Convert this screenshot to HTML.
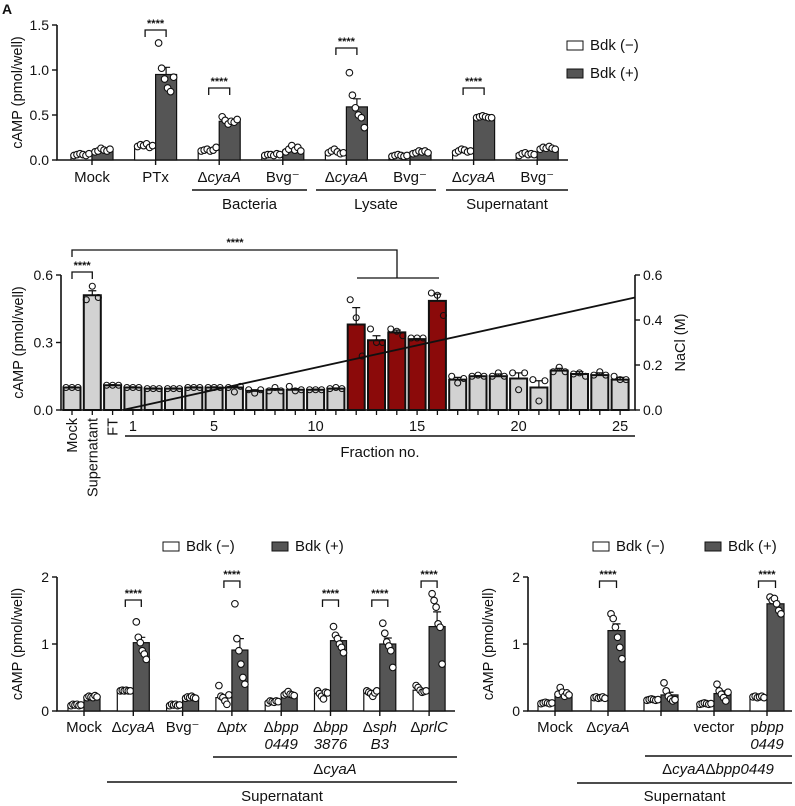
<!DOCTYPE html>
<html><head><meta charset="utf-8">
<style>
html,body{margin:0;padding:0;background:#fff;}
svg{display:block;font-family:"Liberation Sans",Arial,sans-serif;}
</style></head>
<body>
<svg id="fig" width="795" height="806" viewBox="0 0 795 806" xmlns="http://www.w3.org/2000/svg"></svg>
<script>
// ---------- Panel A data ----------
const aCats = ["Mock","PTx","ΔcyaA","Bvg⁻","ΔcyaA","Bvg⁻","ΔcyaA","Bvg⁻"];
const aWhite = [0.06,0.16,0.11,0.06,0.09,0.05,0.10,0.07];
const aDark  = [0.10,0.95,0.43,0.11,0.59,0.09,0.47,0.13];
const aWhiteErr = [0.01,0.01,0.01,0.01,0.01,0.01,0.01,0.01];
const aDarkErr  = [0.01,0.08,0.02,0.01,0.09,0.01,0.01,0.01];
const aWhitePts = [[.05,.06,.07,.06,.05,.07],[.15,.17,.16,.18,.14,.16],[.10,.11,.12,.10,.11,.14],[.05,.06,.06,.05,.07,.06],[.08,.10,.12,.09,.07,.08],[.04,.05,.06,.05,.04,.05],[.08,.10,.12,.11,.09,.10],[.05,.07,.08,.06,.07,.06]];
const aDarkPts = [[.09,.10,.13,.11,.10,.12],[1.30,1.02,.90,.80,.76,.92],[.48,.44,.40,.43,.42,.45],[.09,.12,.16,.11,.14,.10],[.97,.72,.58,.50,.47,.36],[.07,.08,.10,.09,.10,.08],[.47,.48,.49,.48,.47,.47],[.12,.14,.13,.15,.13,.12]];
const aTicks = [0,0.5,1.0,1.5];
const aTickLabels = ["0.0","0.5","1.0","1.5"];
// ---------- Panel B data ----------
const bCats = ["Mock","Supernatant","FT","1","2","3","4","5","6","7","8","9","10","11","12","13","14","15","16","17","18","19","20","21","22","23","24","25"];
const bVals = [0.10,0.51,0.11,0.10,0.095,0.095,0.10,0.10,0.10,0.085,0.09,0.09,0.09,0.095,0.38,0.31,0.345,0.315,0.485,0.135,0.15,0.15,0.14,0.10,0.175,0.16,0.155,0.135];
const bErr = [0.003,0.02,0.003,0.003,0.003,0.003,0.003,0.003,0.005,0.005,0.005,0.005,0.003,0.003,0.075,0.02,0.01,0.003,0.03,0.01,0.003,0.01,0.025,0.03,0.01,0.01,0.01,0.01];
const bPts = [[.10,.10,.10],[.49,.55,.50],[.11,.11,.11],[.10,.10,.10],[.095,.095,.095],[.095,.095,.095],[.10,.10,.10],[.10,.10,.10],[.10,.08,.105],[.09,.075,.09],[.085,.10,.085],[.105,.085,.09],[.09,.09,.09],[.095,.10,.095],[.49,.41,.24],[.36,.30,.30],[.36,.35,.33],[.32,.32,.32],[.52,.51,.42],[.15,.12,.14],[.15,.155,.15],[.15,.165,.15],[.165,.09,.165],[.135,.04,.13],[.17,.19,.17],[.16,.165,.15],[.155,.17,.155],[.15,.135,.135]];
const bRed = [14,15,16,17,18];
const bTicks = [0,0.3,0.6];
const bTickLabels = ["0.0","0.3","0.6"];
const bNaclTicks = [0,0.2,0.4,0.6];
const bNaclLabels = ["0.0","0.2","0.4","0.6"];
const bNaclStart = 0.0, bNaclEnd = 0.5;
// ---------- Panel C data ----------
const cCats = ["Mock","ΔcyaA","Bvg⁻","Δptx","Δbpp|0449","Δbpp|3876","Δsph|B3","ΔprlC"];
const cWhite = [0.09,0.30,0.09,0.20,0.14,0.26,0.27,0.31];
const cDark  = [0.21,1.02,0.20,0.91,0.25,1.05,1.00,1.26];
const cWhiteErr = [0.01,0.01,0.01,0.03,0.01,0.02,0.02,0.02];
const cDarkErr  = [0.01,0.08,0.01,0.17,0.01,0.05,0.09,0.22];
const cWhitePts = [[.08,.10,.09,.10,.08,.09],[.30,.31,.30,.31,.30,.30],[.08,.10,.09,.10,.08,.09],[.38,.22,.20,.15,.10,.24],[.12,.15,.14,.13,.15,.14],[.30,.26,.22,.18,.28,.27],[.30,.28,.26,.22,.27,.30],[.38,.35,.31,.28,.29,.30]];
const cDarkPts = [[.20,.22,.21,.20,.23,.21],[1.33,1.10,1.02,.90,.85,.77],[.19,.21,.20,.22,.20,.19],[1.60,1.08,.90,.70,.50,.40],[.24,.26,.29,.25,.24,.23],[1.26,1.13,1.08,1.00,.95,.87],[1.31,1.16,1.03,.97,.90,.65],[1.75,1.65,1.55,1.30,1.25,.70]];
const cTicks = [0,1,2];
const cTickLabels = ["0","1","2"];
// ---------- Panel D data ----------
const dCats = ["Mock","ΔcyaA","","vector","pbpp|0449"];
const dWhite = [0.12,0.20,0.17,0.11,0.21];
const dDark  = [0.26,1.20,0.24,0.26,1.60];
const dWhiteErr = [0.01,0.01,0.01,0.01,0.01];
const dDarkErr  = [0.02,0.10,0.04,0.04,0.04];
const dWhitePts = [[.11,.12,.13,.12,.11,.12],[.20,.21,.19,.20,.21,.19],[.16,.17,.18,.17,.16,.17],[.10,.11,.12,.11,.10,.11],[.21,.22,.20,.21,.22,.20],[.21,.22,.20,.21,.22,.20]];
const dDarkPts = [[.25,.35,.28,.22,.27,.24],[1.45,1.38,1.25,1.10,.95,.78],[.42,.30,.22,.18,.15,.17],[.40,.30,.25,.20,.15,.28],[1.70,1.65,1.68,1.60,1.50,1.45]];
const dTicks = [0,1,2];
const dTickLabels = ["0","1","2"];

const svg = document.getElementById('fig');
const NS = "http://www.w3.org/2000/svg";
function mk(tag, attrs, parent){
  const e = document.createElementNS(NS, tag);
  for (const k in attrs) e.setAttribute(k, attrs[k]);
  (parent||svg).appendChild(e);
  return e;
}
function txt(x,y,s,size,anchor,parent,extra){
  const t = mk('text',Object.assign({x:x,y:y,'font-size':size,'text-anchor':anchor||'middle',fill:'#111'},extra||{}),parent);
  t.textContent = s;
  return t;
}
// label with italic part: Δ + italic
function catLabel(x,y,s,size,parent){
  const t = mk('text',{x:x,y:y,'font-size':size,'text-anchor':'middle',fill:'#111'},parent);
  if (s.startsWith('Δ')) {
    const a = mk('tspan',{},t); a.textContent='Δ';
    const b = mk('tspan',{'font-style':'italic'},t); b.textContent=s.slice(1);
  } else if (s.startsWith('p') && s.length>1) {
    const a = mk('tspan',{},t); a.textContent='p';
    const b = mk('tspan',{'font-style':'italic'},t); b.textContent=s.slice(1);
  } else if (/^\d/.test(s) || s==='B3') {
    const b = mk('tspan',{'font-style':'italic'},t); b.textContent=s;
  } else t.textContent = s;
  return t;
}
function bracket(x1,x2,y,g){
  mk('path',{d:`M${x1},${y+7}V${y}H${x2}V${y+7}`,fill:'none',stroke:'#111','stroke-width':1.3},g);
  txt((x1+x2)/2,y-3,'****',11,'middle',g,{'font-weight':'bold'});
}

// ---------- grouped chart ----------
function grouped(cfg){
  const g = mk('g',{});
  
  
  const y = v => cfg.y0 - v/cfg.vmax*(cfg.y0-cfg.yTop);
  const gx = i => cfg.first + i*cfg.pitch;
  // axes
  const ax = mk('path',{d:`M${cfg.ax},${cfg.yTop}V${cfg.y0}H${cfg.axEnd}`,fill:'none',stroke:'#111','stroke-width':1.6},g);
  
  
  cfg.ticks.forEach((t,i)=>{
    mk('line',{x1:cfg.ax-5,x2:cfg.ax,y1:y(t),y2:y(t),stroke:'#111','stroke-width':1.4},g);
    const tl = txt(cfg.ax-8,y(t)+5,cfg.tickLabels[i],14,'end',g);
    
    
  });
  const yt = txt(0,0,'cAMP (pmol/well)',14.5,'middle',g,{transform:`translate(${cfg.ax-35},${(cfg.y0+cfg.yTop)/2}) rotate(-90)`});
  
  
  const bw = cfg.bw;
  cfg.white.forEach((v,i)=>{
    const cx = gx(i);
    [[cfg.white,cfg.wErr,cfg.wPts,'#fff',cx-bw],[cfg.dark,cfg.dErr,cfg.dPts,'#555',cx]].forEach(([vals,errs,pts,fill,x0],k)=>{
      const val = vals[i];
      const r = mk('rect',{x:x0,y:y(val),width:bw,height:cfg.y0-y(val),fill:fill,stroke:'#111','stroke-width':1.2},g);
      
      
      mk('path',{d:`M${x0+bw/2},${y(val)}V${y(val+errs[i])}M${x0+bw/2-4},${y(val+errs[i])}H${x0+bw/2+4}`,stroke:'#111','stroke-width':1.2,fill:'none'},g);
      pts[i].forEach((p,j)=>{
        const px = x0+3+ j*(bw-6)/(pts[i].length-1);
        const c = mk('circle',{cx:px,cy:y(p),r:3.3,fill:'#fff',stroke:'#111','stroke-width':1.1},g);
        
        
      });
    });
    mk('line',{x1:cx,x2:cx,y1:cfg.y0,y2:cfg.y0+5,stroke:'#111','stroke-width':1.4},g);
    const parts = cfg.cats[i].split('|');
    parts.forEach((p,k)=>{
      const cl = catLabel(cx,cfg.labY+k*17,p,15,g);
      
      
    });
  });
  cfg.sig.forEach(([i,yy])=>bracket(gx(i)-bw/2,gx(i)+bw/2,yy,g));
  return g;
}
function legend(entries){
  entries.forEach(([x,y,fill,label])=>{
    const r = mk('rect',{x:x,y:y-4,width:16,height:9,fill:fill,stroke:'#111','stroke-width':1});
    
    
    const t = txt(x+23,y+5,label,15,'start');
    
    
  });
}
function groupLine(x1,x2,y,label,ly,italicParts){
  mk('line',{x1:x1,x2:x2,y1:y,y2:y,stroke:'#111','stroke-width':1.4});
  const t = catLabel((x1+x2)/2,ly,label,15);
  
  
  return t;
}

// Panel letter
const pl = txt(2,14,'A',14,'start',svg,{'font-weight':'bold'});



// Panel A
grouped({name:'panel-a-chart',ax:57,axEnd:568,y0:160,yTop:25,vmax:1.5,first:92,pitch:63.6,bw:21,
  ticks:aTicks,tickLabels:aTickLabels,cats:aCats,white:aWhite,dark:aDark,wErr:aWhiteErr,dErr:aDarkErr,
  wPts:aWhitePts,dPts:aDarkPts,labY:182,sig:[[1,30],[2,88],[4,48],[6,88]]});
groupLine(192,307,190,'Bacteria',209);
groupLine(316,436,190,'Lysate',209);
groupLine(446,568,190,'Supernatant',209);
legend([[567,45,'#fff','Bdk (−)'],[567,73,'#555','Bdk (+)']]);

// Panel B
(function(){
  const g = mk('g',{});
  
  
  const y0=410, yTop=275, vmax=0.6, first=72, pitch=20.3, bw=19, axL=61, axR=635;
  const y = v => y0 - v/vmax*(y0-yTop);
  const bx = i => first + i*pitch;
  const ax = mk('path',{d:`M${axL},${yTop}V${y0}H${axR}V${yTop}`,fill:'none',stroke:'#111','stroke-width':1.6},g);
  
  
  bTicks.forEach((t,i)=>{
    mk('line',{x1:axL-5,x2:axL,y1:y(t),y2:y(t),stroke:'#111','stroke-width':1.4},g);
    txt(axL-8,y(t)+5,bTickLabels[i],14,'end',g);
  });
  bNaclTicks.forEach((t,i)=>{
    mk('line',{x1:axR,x2:axR+5,y1:y(t),y2:y(t),stroke:'#111','stroke-width':1.4},g);
    txt(axR+8,y(t)+5,bNaclLabels[i],14,'start',g);
  });
  const yt = txt(0,0,'cAMP (pmol/well)',14.5,'middle',g,{transform:`translate(${axL-38},${(y0+yTop)/2}) rotate(-90)`});
  
  
  const yt2 = txt(0,0,'NaCl (M)',14.5,'middle',g,{transform:`translate(${axR+50},${(y0+yTop)/2}) rotate(-90)`});
  
  
  bVals.forEach((v,i)=>{
    const cx = bx(i);
    const red = bRed.includes(i);
    const r = mk('rect',{x:cx-bw/2+1,y:y(v),width:bw-2,height:y0-y(v),fill:red?'#8b0a0a':'#d2d2d2',stroke:'#111','stroke-width':2},g);
    
    
    mk('path',{d:`M${cx},${y(v)}V${y(v+bErr[i])}M${cx-4},${y(v+bErr[i])}H${cx+4}`,stroke:'#111','stroke-width':1.2,fill:'none'},g);
    bPts[i].forEach((p,j)=>{
      const c = mk('circle',{cx:cx-6+j*6,cy:y(p),r:3,fill:'none',stroke:'#111','stroke-width':1.1},g);
      
      
    });
    mk('line',{x1:cx,x2:cx,y1:y0,y2:y0+5,stroke:'#111','stroke-width':1.3},g);
    if (i<3) {
      const t = txt(0,0,bCats[i],14.5,'end',g,{transform:`translate(${cx+5},${y0+8}) rotate(-90)`});
      
      
    } else if ([1,5,10,15,20,25].includes(+bCats[i])) {
      const t = txt(cx,y0+21,bCats[i],14.5,'middle',g);
      
      
    }
  });
  // NaCl gradient line: from start of fraction 1 to right axis
  const ny = v => y0 - v/0.6*(y0-yTop);
  const nl = mk('line',{x1:bx(3)-pitch/2,y1:ny(bNaclStart),x2:axR,y2:ny(bNaclEnd),stroke:'#111','stroke-width':1.8},g);
  
  
  mk('line',{x1:125,x2:635,y1:436,y2:436,stroke:'#111','stroke-width':1.4},g);
  const fx = txt(380,457,'Fraction no.',15,'middle',g);
  
  
  bracket(bx(0),bx(1),272,g);
  mk('path',{d:`M${bx(0)},257V250H397V278M357,278H439`,fill:'none',stroke:'#111','stroke-width':1.3},g);
  txt(235,246,'****',11,'middle',g,{'font-weight':'bold'});
})();

// Panel C
grouped({name:'panel-c-chart',ax:57,axEnd:455,y0:711,yTop:577,vmax:2,first:84,pitch:49.3,bw:16,
  ticks:cTicks,tickLabels:cTickLabels,cats:cCats,white:cWhite,dark:cDark,wErr:cWhiteErr,dErr:cDarkErr,
  wPts:cWhitePts,dPts:cDarkPts,labY:732,sig:[[1,600],[3,581],[5,600],[6,600],[7,581]]});
groupLine(213,457,757,'ΔcyaA',774);
groupLine(107,457,782,'Supernatant',801);
legend([[163,546,'#fff','Bdk (−)'],[272,546,'#555','Bdk (+)']]);

// Panel D
grouped({name:'panel-d-chart',ax:528,axEnd:792,y0:711,yTop:577,vmax:2,first:555,pitch:53,bw:17,
  ticks:dTicks,tickLabels:dTickLabels,cats:dCats,white:dWhite,dark:dDark,wErr:dWhiteErr,dErr:dDarkErr,
  wPts:dWhitePts,dPts:dDarkPts,labY:732,sig:[[1,581],[4,581]]});
mk('line',{x1:645,x2:792,y1:756,y2:756,stroke:'#111','stroke-width':1.4});
(function(){
  const t = mk('text',{x:718,y:774,'font-size':15,'text-anchor':'middle',fill:'#111'});
  
  
  const a=mk('tspan',{},t);a.textContent='Δ';
  const b=mk('tspan',{'font-style':'italic'},t);b.textContent='cyaA';
  const c=mk('tspan',{},t);c.textContent='Δ';
  const d=mk('tspan',{'font-style':'italic'},t);d.textContent='bpp0449';
})();
groupLine(577,792,783,'Supernatant',801);
legend([[593,546,'#fff','Bdk (−)'],[705,546,'#555','Bdk (+)']]);
</script>
</body></html>
